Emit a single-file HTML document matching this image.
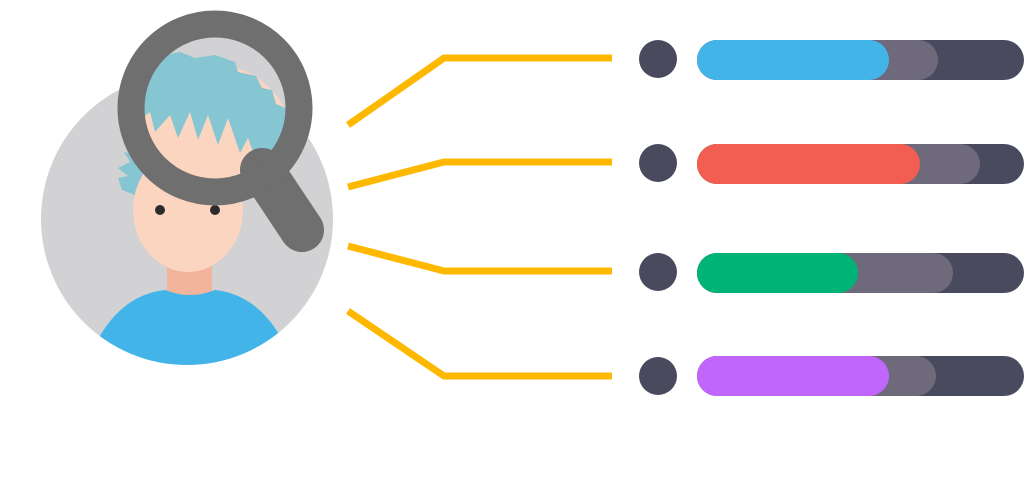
<!DOCTYPE html>
<html><head><style>body{margin:0;background:#fff}svg{display:block}</style></head><body>
<svg width="1024" height="481" viewBox="0 0 1024 481" xmlns="http://www.w3.org/2000/svg">
<defs>
<clipPath id="c"><circle cx="187" cy="219" r="146"/></clipPath>
<clipPath id="l"><circle cx="215" cy="108" r="71"/></clipPath>
</defs>
<circle cx="187" cy="219" r="146" fill="#d2d2d4"/>
<g clip-path="url(#c)">
<path d="M122 190 L118 178 L128 176 L118 168 L130 162 L124 152 L140 156 L152 180 L135 195 Z" fill="#86c5d2"/>
<rect x="167" y="255" width="45" height="45" fill="#f3b49c"/>
<path d="M95 345 Q120 295 165 290 Q190 300 215 290 Q260 295 285 345 L285 380 L95 380 Z" fill="#43b4e8"/>
<ellipse cx="188" cy="210" rx="55" ry="62" fill="#fcd5c0"/>
<circle cx="160" cy="210" r="5" fill="#2b2b2b"/>
<circle cx="215" cy="210" r="5" fill="#2b2b2b"/>
</g>
<circle cx="215" cy="108" r="71" fill="#d2d2d4"/>
<g clip-path="url(#l)">
<ellipse cx="215" cy="150" rx="80" ry="85" fill="#fcd5c0"/>
<path d="M140 40 L165 55 L180 52 L195 58 L215 55 L235 62 L238 72 L256 76 L262 88 L272 90 L276 104 L290 110 L290 170 L265 148 L256 160 L248 138 L240 153 L228 118 L218 145 L208 115 L198 140 L190 112 L178 138 L170 115 L155 132 L150 112 L140 120 Z" fill="#86c5d2"/>
</g>
<line x1="262" y1="170" x2="302" y2="230" stroke="#6f6f6f" stroke-width="44" stroke-linecap="round"/>
<circle cx="215" cy="108" r="84" fill="none" stroke="#6f6f6f" stroke-width="27"/>
<g fill="none" stroke="#ffb800" stroke-width="7" stroke-linejoin="round">
<polyline points="348,125 444,58 612,58"/>
<polyline points="348,187 444,162 612,162"/>
<polyline points="348,246 444,271 612,271"/>
<polyline points="348,311 444,376 612,376"/>
</g>
<g fill="#4a4a5e">
<circle cx="658" cy="59" r="19"/><circle cx="658" cy="163" r="19"/><circle cx="658" cy="272" r="19"/><circle cx="658" cy="376" r="19"/>
<rect x="697" y="40" width="327" height="40" rx="20"/>
<rect x="697" y="144" width="327" height="40" rx="20"/>
<rect x="697" y="253" width="327" height="40" rx="20"/>
<rect x="697" y="356" width="327" height="40" rx="20"/>
</g>
<g fill="#6e6a7c">
<rect x="697" y="40" width="241" height="40" rx="20"/>
<rect x="697" y="144" width="283" height="40" rx="20"/>
<rect x="697" y="253" width="256" height="40" rx="20"/>
<rect x="697" y="356" width="239" height="40" rx="20"/>
</g>
<rect x="697" y="40" width="192" height="40" rx="20" fill="#43b4e8"/>
<rect x="697" y="144" width="223" height="40" rx="20" fill="#f25f52"/>
<rect x="697" y="253" width="161" height="40" rx="20" fill="#00b377"/>
<rect x="697" y="356" width="192" height="40" rx="20" fill="#c066fa"/>
</svg>
</body></html>
